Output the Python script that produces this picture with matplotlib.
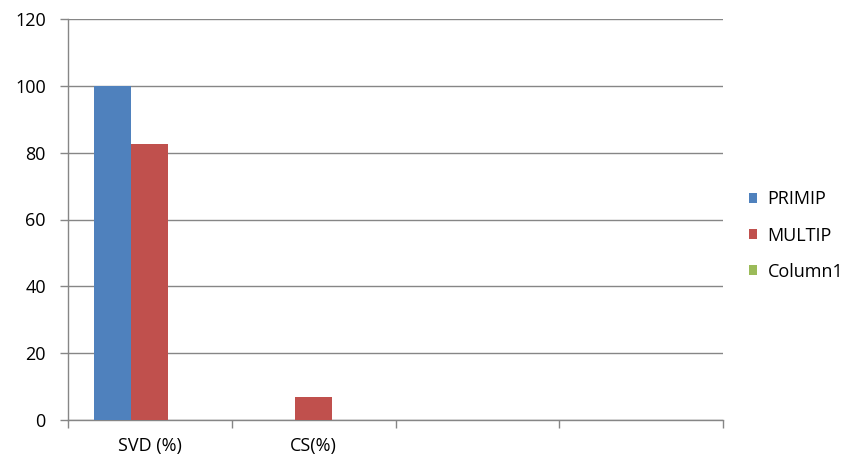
import numpy as np
import matplotlib
matplotlib.use("Agg")
import matplotlib.pyplot as plt

categories = ["SVD (%)", "CS(%)", "", ""]
primip = [100, 0, np.nan, np.nan]
multip = [82.5, 7, np.nan, np.nan]
column1 = [np.nan, np.nan, np.nan, np.nan]

series = [("PRIMIP", primip, "#4F81BD"),
          ("MULTIP", multip, "#C0504D"),
          ("Column1", column1, "#9BBB59")]

plt.rcParams['font.family'] = ['Open Sans', 'DejaVu Sans']
fs = 13

fig = plt.figure(figsize=(8.56, 4.62), dpi=100)
ax = fig.add_axes([68 / 856, 1 - 420 / 462, (723 - 68) / 856, (420 - 19) / 462])

x = np.arange(len(categories))
w = 0.226
for i, (name, vals, color) in enumerate(series):
    ax.bar(x + (i - 1) * w, vals, w, color=color, label=name, zorder=3)

ax.set_xlim(-0.5, len(categories) - 0.5)
ax.set_ylim(0, 120)
ax.set_yticks(range(0, 121, 20))
ax.yaxis.grid(True, color="#868686", linewidth=1, zorder=0)

ax.set_xticks(x)
ax.set_xticklabels(categories)
ax.set_xticks(np.arange(len(categories) + 1) - 0.5, minor=True)
ax.tick_params(axis="x", which="major", length=0, pad=12, labelsize=fs, labelcolor="#000000")
ax.tick_params(axis="x", which="minor", length=6, color="#868686", width=1)
ax.tick_params(axis="y", length=6, color="#868686", width=1, labelsize=fs, pad=10)

for s in ["top", "right"]:
    ax.spines[s].set_visible(False)
for s in ["left", "bottom"]:
    ax.spines[s].set_color("#868686")
    ax.spines[s].set_linewidth(1)

ax.legend(loc="center left", bbox_to_anchor=(1.02, 0.46), frameon=False,
          handlelength=0.45, handleheight=0.45, handletextpad=0.6,
          labelspacing=1.0, fontsize=fs, borderaxespad=0.3)

fig.savefig("out.png", dpi=100)
